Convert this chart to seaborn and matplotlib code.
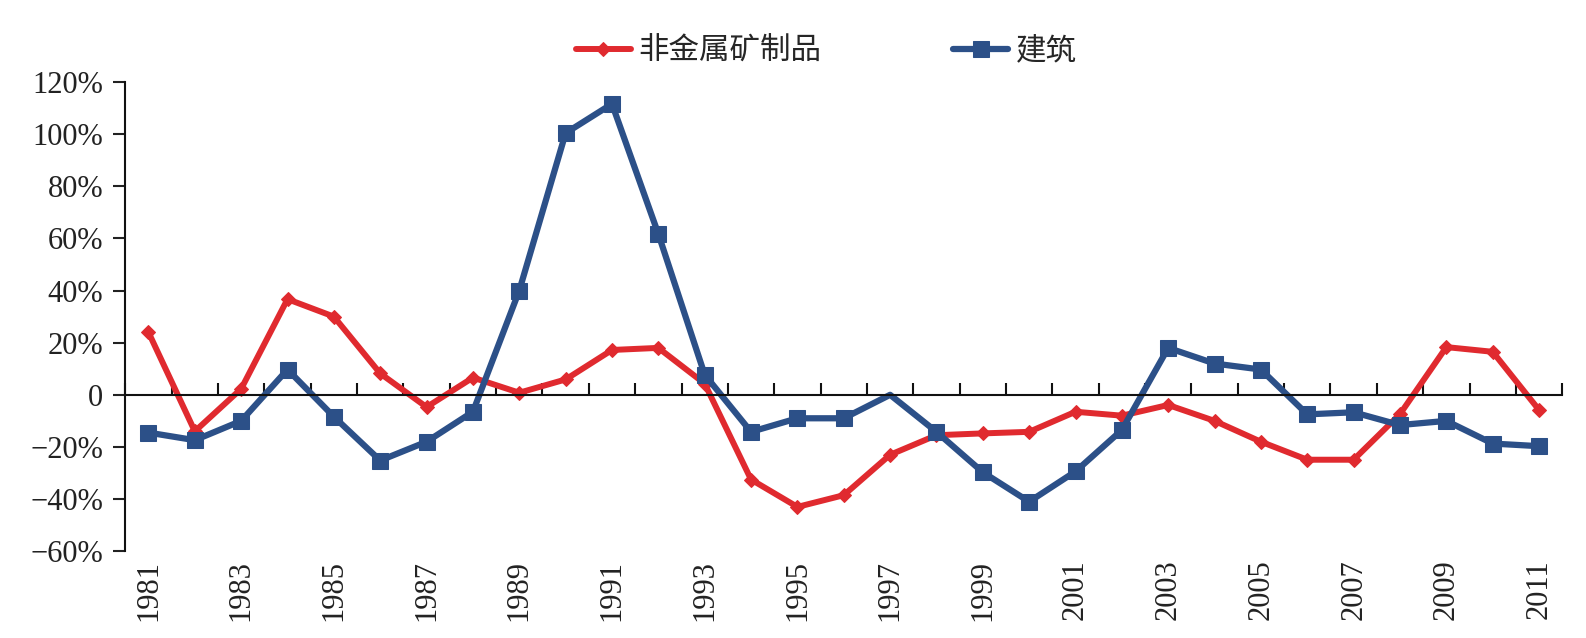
import numpy as np
import pandas as pd
import seaborn as sns
import matplotlib
matplotlib.use("Agg")
import matplotlib.pyplot as plt
from matplotlib.ticker import FuncFormatter, FixedLocator

years = list(range(1981, 2012))
nonmetal = [24, -14, 2.3, 36.7, 30, 8.2, -4.7, 6.6, 0.8, 5.9, 17.2, 18, 4.3, -32.5, -43, -38.5,
            -23, -15.5, -14.8, -14.2, -6.5, -8, -3.9, -10, -18, -24.9, -24.9, -7.4, 18.3, 16.5, -5.8]
construction = [-14.5, -17.4, -10, 9.7, -8.4, -25.2, -18, -6.5, 40, 100.4, 111.6, 61.7, 7.7, -14.2,
                -9, -9, 0, -14.2, -29.7, -41, -29.4, -13.5, 18, 12, 9.7, -7.5, -6.7, -11.6, -10, -18.7, -19.7]
series_names = ["非金属矿制品", "建筑"]
ytick_vals = [-60, -40, -20, 0, 20, 40, 60, 80, 100, 120]
xtick_years = years[::2]

df = pd.DataFrame({"year": years, series_names[0]: nonmetal, series_names[1]: construction})

sns.set_theme(style="white")
plt.rcParams["font.family"] = ["Liberation Serif", "Noto Sans CJK SC", "DejaVu Sans"]

fig = plt.figure(figsize=(15.86, 6.38), dpi=100)
ax = fig.add_axes([0.079, 0.136, 0.906, 0.7355])

red = "#E02A2F"
blue = "#2C5088"

sns.lineplot(data=df, x="year", y=series_names[0], ax=ax, color=red, lw=4.3,
             marker="D", markersize=7, markeredgecolor=red, label=series_names[0])
blue_marks = [i for i, v in enumerate(construction) if v != 0]
sns.lineplot(data=df, x="year", y=series_names[1], ax=ax, color=blue, lw=4.5,
             marker="s", markersize=11, markeredgecolor=blue, markevery=blue_marks,
             label=series_names[1])

ax.set_xlim(years[0] - 0.5, years[-1] + 0.5)
ax.set_ylim(-60, 120)
ax.set_yticks(ytick_vals)
ax.yaxis.set_major_formatter(FuncFormatter(lambda v, p: "0" if v == 0 else f"{int(v)}%".replace("-", "\u2212")))
ax.tick_params(axis="y", direction="out", length=9, width=1.5, labelsize=22, pad=7, colors="#222222", left=True)

# zero-line spine with boundary ticks
ax.spines["bottom"].set_position(("data", 0))
ax.spines["bottom"].set_linewidth(1.5)
ax.spines["bottom"].set_color("#111111")
ax.spines["left"].set_linewidth(1.5)
ax.spines["left"].set_color("#111111")
ax.spines["top"].set_visible(False)
ax.spines["right"].set_visible(False)
boundaries = [y - 0.5 for y in years] + [years[-1] + 0.5]
ax.xaxis.set_major_locator(FixedLocator(boundaries))
ax.xaxis.set_ticklabels([])
ax.tick_params(axis="x", which="major", direction="in", length=9, width=1.5, bottom=True, color="#111111")
ax.set_xlabel("")
ax.set_ylabel("")

sec = ax.secondary_xaxis(location=0)
sec.set_xticks(xtick_years)
sec.set_xticklabels([str(y) for y in xtick_years], rotation=90)
sec.tick_params(length=0, labelsize=22, pad=6, colors="#222222")
sec.spines["bottom"].set_visible(False)

ax.legend_.remove()
handles, labels = ax.get_legend_handles_labels()
leg = fig.legend(handles, labels, loc="center", bbox_to_anchor=(0.521, 0.92), ncol=2, frameon=False,
                 handlelength=1.8, columnspacing=4.3, handletextpad=0.25,
                 prop={"family": ["Noto Sans CJK SC"], "size": 22})

fig.savefig("out.png", dpi=100, facecolor="white")
